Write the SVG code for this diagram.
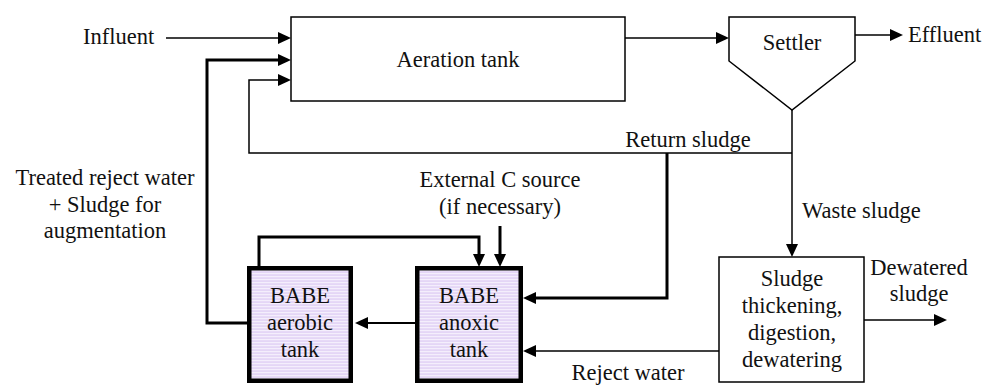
<svg xmlns="http://www.w3.org/2000/svg" width="987" height="385" viewBox="0 0 987 385" font-family="Liberation Serif, Times New Roman, Times, serif">
  <style>
    text { font-size: 22.5px; fill: #111; }
    .mid { text-anchor: middle; }
    .box { fill: #fff; stroke: #000; stroke-width: 1.5; }
    .tank { fill: url(#stripes); stroke: #000; stroke-width: 4.5; }
    .thin { fill: none; stroke: #000; stroke-width: 1.5; }
    .med { fill: none; stroke: #000; stroke-width: 2; }
    .thick { fill: none; stroke: #000; stroke-width: 3; }
  </style>
  <defs>
    <marker id="ah" markerUnits="userSpaceOnUse" markerWidth="14" markerHeight="12" refX="5" refY="6" orient="auto" viewBox="0 0 14 12">
      <path d="M0,0 L13,6 L0,12 z" fill="#000"/>
    </marker>
    <pattern id="stripes" patternUnits="userSpaceOnUse" width="8" height="3">
      <rect width="8" height="3" fill="#e4d6f6"/>
      <rect width="8" height="1.2" fill="#f4eefc"/>
    </pattern>
  </defs>

  <!-- flow connectors -->
  <g id="connectors">
    <path class="thin" d="M166,38 H283" marker-end="url(#ah)"/>
    <path class="thick" d="M247,323 H207 V60 H283" marker-end="url(#ah)"/>
    <path class="thin" d="M792,153 H249 V80 H283" marker-end="url(#ah)"/>
    <path class="thin" d="M625,38 H721" marker-end="url(#ah)"/>
    <path class="thin" d="M855,35 H895" marker-end="url(#ah)"/>
    <path class="thin" d="M792,110 V249" marker-end="url(#ah)"/>
    <path class="thick" d="M667,153 V298 H531" marker-end="url(#ah)"/>
    <path class="thin" d="M864,320 H939" marker-end="url(#ah)"/>
    <path class="thin" d="M719,351 H531" marker-end="url(#ah)"/>
    <path class="med" d="M415,323 H363" marker-end="url(#ah)"/>
    <path class="thick" d="M259,266 V237 H479 V259" marker-end="url(#ah)"/>
    <path class="thick" d="M500,226 V259" marker-end="url(#ah)"/>
  </g>

  <!-- process units -->
  <g id="aeration-tank">
    <rect class="box" x="291" y="17" width="334" height="84"/>
    <text class="mid" x="458" y="67">Aeration tank</text>
  </g>

  <g id="settler">
    <polygon class="box" points="729,17 855,17 855,61 792,110 729,61"/>
    <text class="mid" x="792" y="50">Settler</text>
  </g>

  <g id="sludge-treatment">
    <rect class="box" x="719" y="257" width="145" height="125"/>
    <text class="mid" x="792" y="286">Sludge</text>
    <text class="mid" x="792" y="313">thickening,</text>
    <text class="mid" x="792" y="340">digestion,</text>
    <text class="mid" x="792" y="367">dewatering</text>
  </g>

  <g id="babe-aerobic">
    <rect class="tank" x="249.25" y="268.25" width="101.5" height="112.5"/>
    <text class="mid" x="300" y="303">BABE</text>
    <text class="mid" x="300" y="330">aerobic</text>
    <text class="mid" x="300" y="357">tank</text>
  </g>

  <g id="babe-anoxic">
    <rect class="tank" x="417.25" y="268.25" width="103.5" height="112.5"/>
    <text class="mid" x="469" y="303">BABE</text>
    <text class="mid" x="469" y="330">anoxic</text>
    <text class="mid" x="469" y="357">tank</text>
  </g>

  <!-- stream labels -->
  <g id="labels">
    <text x="83" y="44">Influent</text>
    <text x="908" y="42">Effluent</text>
    <text class="mid" x="688" y="147">Return sludge</text>
    <text x="802" y="218">Waste sludge</text>
    <text class="mid" x="919" y="275">Dewatered</text>
    <text class="mid" x="919" y="301">sludge</text>
    <text class="mid" x="628" y="380">Reject water</text>
    <text class="mid" x="500" y="187">External C source</text>
    <text class="mid" x="500" y="214">(if necessary)</text>
    <text class="mid" x="105" y="185">Treated reject water</text>
    <text class="mid" x="105" y="212">+ Sludge for</text>
    <text class="mid" x="105" y="238">augmentation</text>
  </g>
</svg>
